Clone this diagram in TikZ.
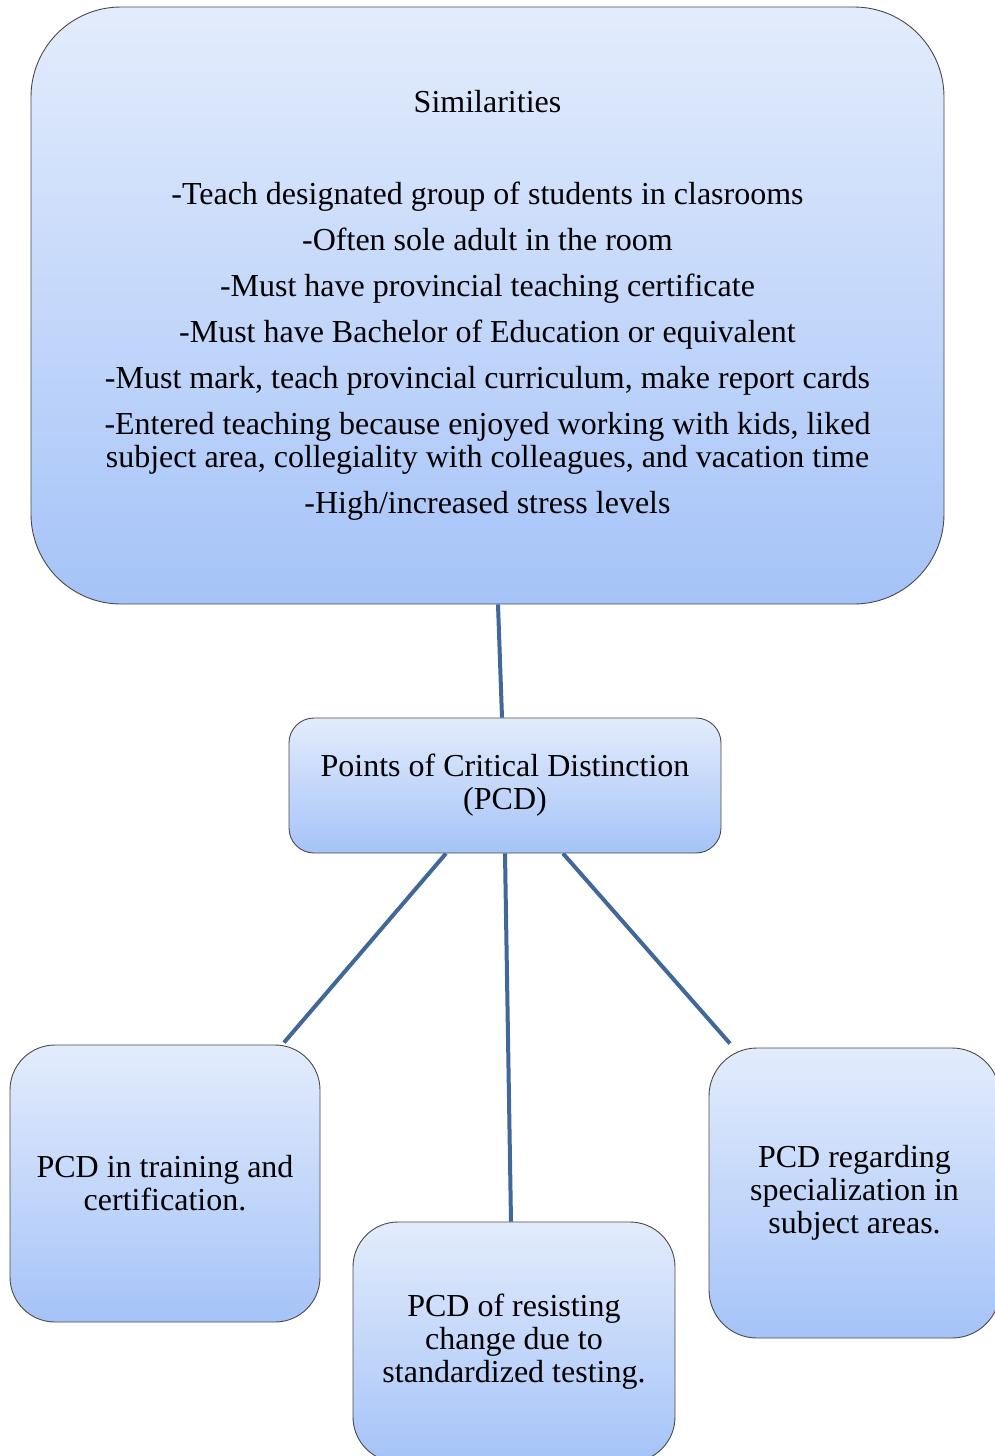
\documentclass[tikz,border=0pt]{standalone}
\usepackage{fontspec}
\setmainfont{Liberation Serif}
\usetikzlibrary{backgrounds}
\definecolor{boxtop}{HTML}{E3ECFC}
\definecolor{boxbot}{HTML}{A5C3F8}
\definecolor{boxedge}{HTML}{4A4A4A}
\definecolor{linkblue}{HTML}{41689B}
\tikzset{
  card/.style={draw=boxedge, line width=0.9pt, top color=boxtop, bottom color=boxbot,
    inner sep=0pt, align=center, font=\fontsize{32}{33}\selectfont},
  link/.style={draw=linkblue, line width=4pt}
}
\begin{document}
\begin{tikzpicture}[x=1pt,y=-1pt]
\clip (0,0) rectangle (995,1456);

\node[card, rounded corners=90pt, minimum width=913pt, minimum height=597pt] (sim) at (487.5,305.5)
  {Similarities\\[59pt]
   -Teach designated group of students in clasrooms\\[13pt]
   -Often sole adult in the room\\[13pt]
   -Must have provincial teaching certificate\\[13pt]
   -Must have Bachelor of Education or equivalent\\[13pt]
   -Must mark, teach provincial curriculum, make report cards\\[13pt]
   -Entered teaching because enjoyed working with kids, liked\\
   subject area, collegiality with colleagues, and vacation time\\[13pt]
   -High/increased stress levels};

\node[card, rounded corners=25pt, minimum width=432pt, minimum height=135pt] (pcd) at (505,785.5)
  {Points of Critical Distinction\\(PCD)};

\node[card, rounded corners=45pt, minimum width=310pt, minimum height=277pt] (train) at (165,1183.5)
  {PCD in training and\\certification.};

\node[card, rounded corners=45pt, minimum width=322pt, minimum height=240pt] (test) at (514,1342)
  {PCD of resisting\\change due to\\standardized testing.};

\node[card, rounded corners=48pt, minimum width=291pt, minimum height=290pt] (subj) at (854.5,1193)
  {PCD regarding\\specialization in\\subject areas.};

\begin{scope}[on background layer]
  \fill[white] (0,0) rectangle (995,1456);
  \draw[link] ([xshift=10.5pt]sim.south) -- ([xshift=-3pt]pcd.north);
  \draw[link] ([xshift=-59pt]pcd.south) -- ([xshift=119pt,yshift=2pt]train.north);
  \draw[link] (pcd.south) -- ([xshift=-3pt]test.north);
  \draw[link] ([xshift=58pt]pcd.south) -- ([xshift=-124.5pt,yshift=4pt]subj.north);
\end{scope}
\end{tikzpicture}
\end{document}
